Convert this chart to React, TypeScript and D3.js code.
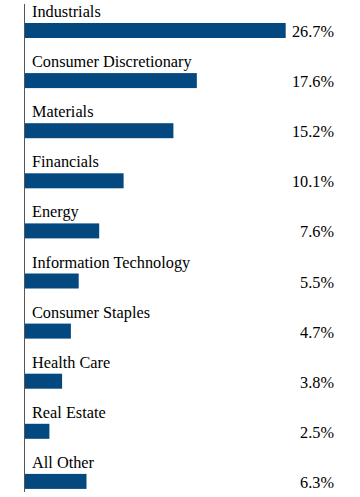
import React from "react";
import * as d3 from "d3";

const categories = [
  "Industrials",
  "Consumer Discretionary",
  "Materials",
  "Financials",
  "Energy",
  "Information Technology",
  "Consumer Staples",
  "Health Care",
  "Real Estate",
  "All Other",
];
const values = [26.7, 17.6, 15.2, 10.1, 7.6, 5.5, 4.7, 3.8, 2.5, 6.3];
const valueLabels = ["26.7%", "17.6%", "15.2%", "10.1%", "7.6%", "5.5%", "4.7%", "3.8%", "2.5%", "6.3%"];

const W = 360;
const H = 497;

export default function App() {
  const x = d3.scaleLinear().domain([0, 33.8]).range([25, 355]);
  const y = d3.scaleBand<string>().domain(categories).range([0, 501]).padding(0);
  const barOffset = 23;
  const barH = 15;
  const font = "Times, Liberation Serif, serif";
  return (
    <svg
      width={W}
      height={H}
      style={{ position: "absolute", left: 0, top: 0, background: "#fff" }}
    >
      {categories.map((c, i) => {
        const top = (y(c) ?? 0) + barOffset;
        return (
          <g key={c}>
            <text x={32} y={top - 6} style={{ fontFamily: font, fontSize: 16.3 }} fill="#000">
              {c}
            </text>
            <rect x={x(0)} y={top} width={x(values[i]) - x(0)} height={barH} fill="#03487e" />
            <text
              x={334}
              y={top + barH - 1}
              textAnchor="end"
              style={{ fontFamily: font, fontSize: 16.3 }}
              fill="#000"
            >
              {valueLabels[i]}
            </text>
          </g>
        );
      })}
      <line x1={24.5} x2={24.5} y1={4} y2={492} stroke="#555" strokeWidth={1} />
    </svg>
  );
}
